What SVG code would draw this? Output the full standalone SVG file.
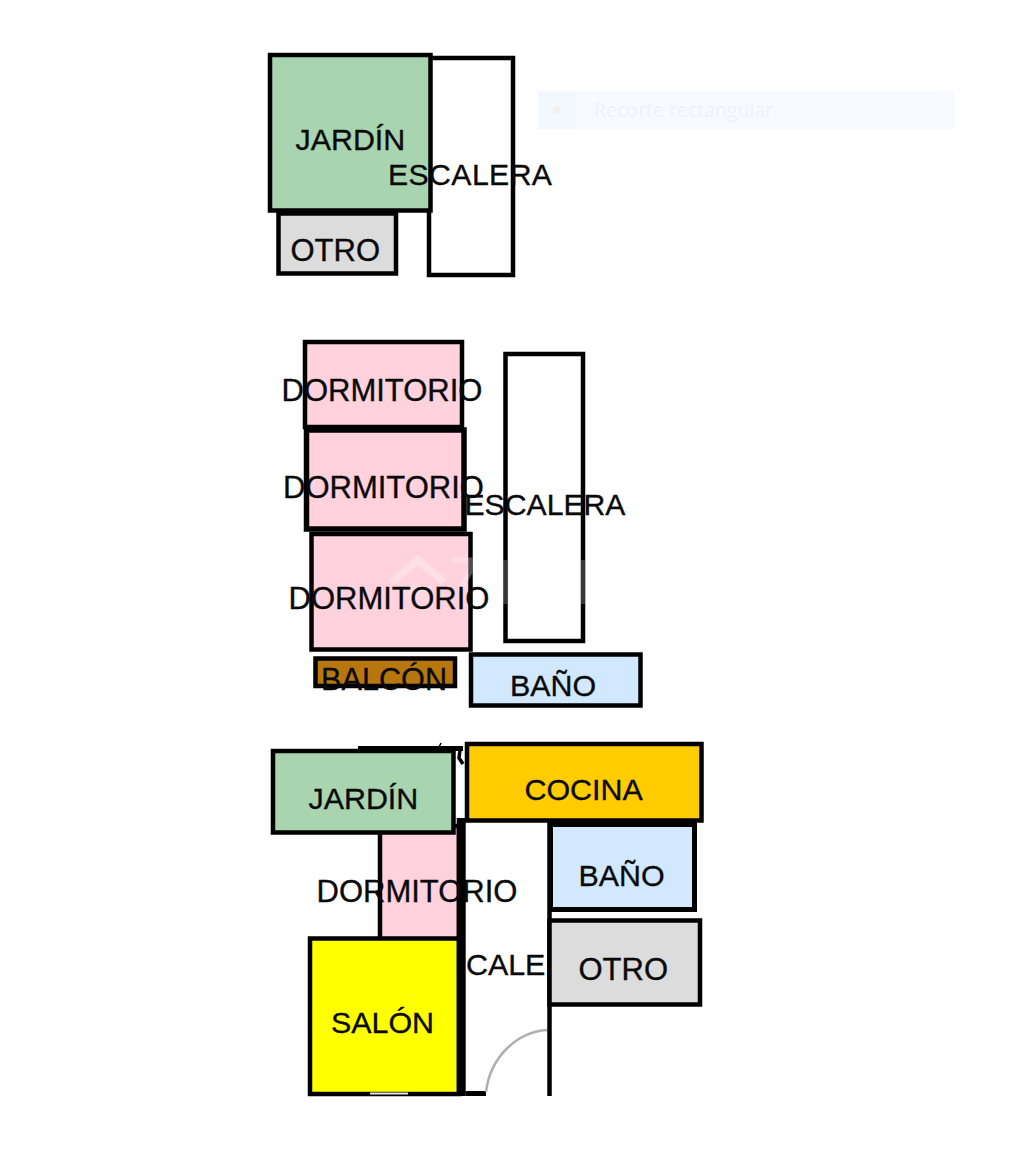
<svg xmlns="http://www.w3.org/2000/svg" width="1022" height="1154" viewBox="0 0 1022 1154">
<style>
.r{stroke:#000;stroke-width:4.500}
.w{stroke:#000;fill:none}
.j{fill:#a8d4b0}.o{fill:#dcdcdc}.d{fill:#ffd2dd}.b{fill:#d2e8ff}.e{fill:#fff}
text{font-family:"Liberation Sans",Arial,sans-serif;font-size:30.400px;fill:#0a0a0a;stroke:#0a0a0a;stroke-width:0.350}
</style>
<rect width="1022" height="1154" fill="#fff"/>
<g id="recorte">
<rect x="538" y="91" width="416" height="38" rx="2" fill="#f7fbff"/>
<rect x="538" y="91" width="38" height="38" fill="#f3f8ff"/>
<circle cx="557" cy="110" r="4" fill="#f5eeec"/>
<text x="594" y="117" style="font-family:'Open Sans',sans-serif;font-size:19.500px;stroke:none;fill:#eff2f5">Recorte rectangular</text>
</g>
<g id="planta-1">
<rect class="r e" x="429" y="58" width="84" height="217"/>
<rect class="r o" x="278.500" y="213.500" width="117.500" height="60"/>
<rect class="r j" x="270" y="55" width="160.500" height="155.500"/>
<text x="295.500" y="149.500">JARDÍN</text>
<text x="388" y="184.500" style="font-size:30.200px" textLength="164">ESCALERA</text>
<text x="290.500" y="261" style="font-size:31px">OTRO</text>
</g>
<g id="planta-2">
<rect class="r e" x="505.500" y="354" width="77.500" height="287"/>
<rect class="r d" x="305" y="342" width="157" height="85"/>
<rect class="r d" x="306.500" y="430" width="157.500" height="99" style="stroke-width:5.500"/>
<rect class="r d" x="311.500" y="534" width="159" height="115.500"/>
<g id="marca" opacity="0.3">
<path d="M392 582L418 560L444 582" fill="none" stroke="#fff" stroke-width="8"/>
<path d="M404 586H432V600H404Z" fill="#fff" opacity="0.6"/>
<path d="M452 560H470V572L460 590" fill="none" stroke="#fff" stroke-width="5"/>
</g>
<rect class="r" x="315.500" y="658.500" width="139.500" height="27.500" fill="#b8760e"/>
<rect class="r b" x="471" y="654.500" width="169.500" height="51"/>
<text x="321" y="689.500" style="font-size:30.600px" textLength="126">BALCÓN</text>
<text x="281.500" y="401" style="font-size:31px">DORMITORIO</text>
<text x="283" y="497.500" style="font-size:31px">DORMITORIO</text>
<text x="288.500" y="608.500" style="font-size:31px">DORMITORIO</text>
<text x="464.500" y="514.500" style="font-size:30.200px" textLength="161">ESCALERA</text>
<text x="510" y="696">BAÑO</text>
<g fill="#8a8a8a" opacity="0.4">
<rect x="503" y="560" width="4.500" height="44"/>
<rect x="581" y="560" width="4.500" height="44"/>
</g>
</g>
<g id="planta-3">
<path class="w" d="M358 748.500H463" stroke-width="5"/>
<path class="w" d="M441 743L439 747" stroke-width="1.500"/>
<path class="w" d="M460 750L459 758L463 764" stroke-width="3.500"/>
<rect class="r d" x="380" y="826" width="79" height="113.500"/>
<rect class="r" x="310" y="938.500" width="149" height="155.500" fill="#ff0"/>
<rect x="370" y="1092.500" width="38" height="2" fill="#e8e8d8"/>
<path id="muro-c" d="M461.200 818V1096" class="w" style="stroke-width:9"/>
<rect class="r j" x="273" y="751" width="180.500" height="81.500"/>
<rect class="r" x="467" y="744" width="234.500" height="76.500" fill="#fc0"/>
<path class="w" d="M549.500 820V1096" style="stroke-width:4.500"/>
<rect class="r b" x="550.500" y="824.500" width="144" height="85" style="stroke-width:5"/>
<rect class="r o" x="549.500" y="920.500" width="150.500" height="84"/>
<path class="w" d="M465.500 1093.500H486" style="stroke-width:5"/>
<path d="M486 1092C490 1058 516 1032 547 1030" fill="none" stroke="#b0b0b0" stroke-width="2.500"/>
<text x="308.500" y="808.500">JARDÍN</text>
<text x="524.500" y="800">COCINA</text>
<text x="578.500" y="885.500">BAÑO</text>
<text x="316.500" y="901.500" style="font-size:31px">DORMITORIO</text>
<text x="466" y="974.500">CALE</text>
<text x="578.500" y="980" style="font-size:31px">OTRO</text>
<text x="331" y="1032.500">SALÓN</text>
</g>
</svg>
